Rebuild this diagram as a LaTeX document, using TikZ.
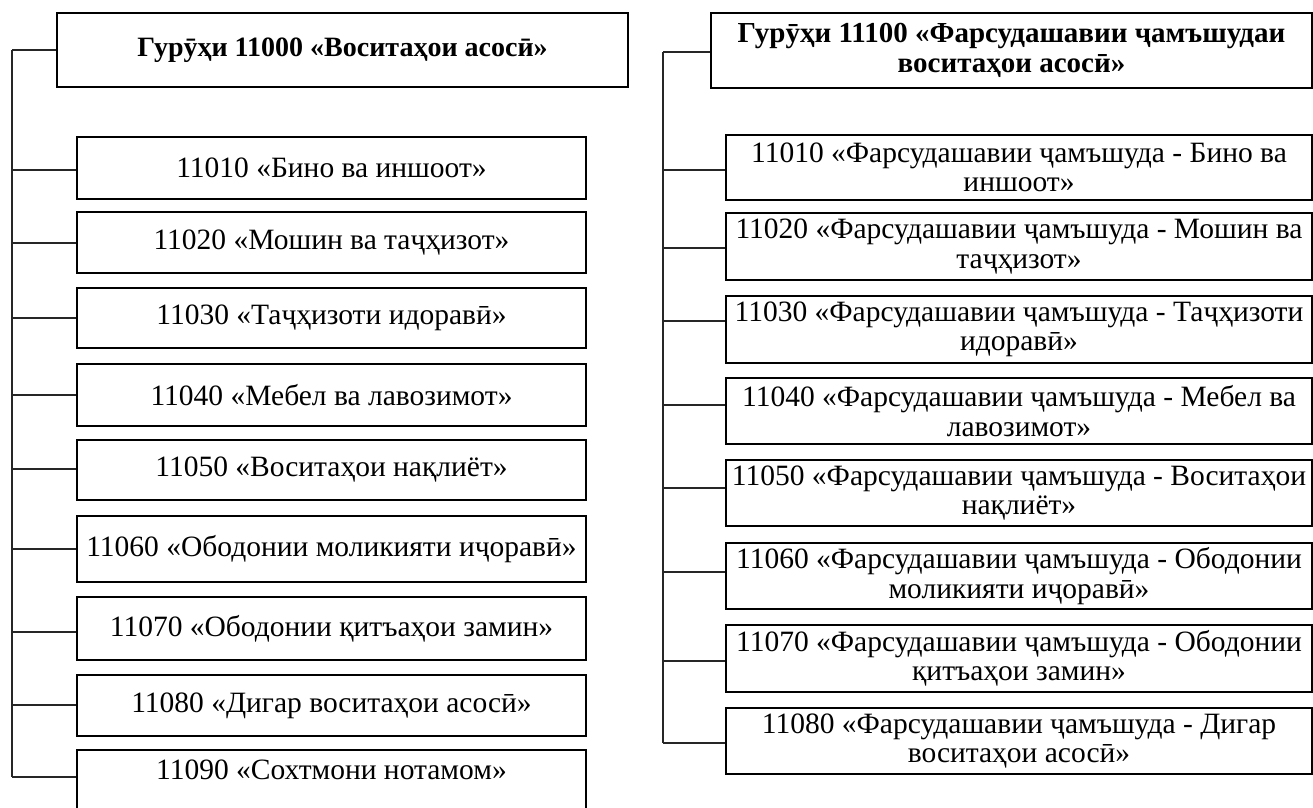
\documentclass[tikz,border=0pt]{standalone}
\usepackage{fontspec}
\setmainfont{Liberation Serif}
\tikzset{
  box/.style={draw=black, line width=2pt, inner sep=0pt, align=center,
    font=\fontsize{29.5}{29.5}\selectfont},
  hbox/.style={box, font=\bfseries\fontsize{29}{30}\selectfont},
  link/.style={draw=black!85, line width=1.2pt},
}
\begin{document}
\begin{tikzpicture}[x=1pt,y=-1pt]
\useasboundingbox (0,0) rectangle (1313,807);
% ---------- left column ----------
\node[hbox, font=\bfseries\fontsize{28}{30}\selectfont, minimum width=571pt, minimum height=74pt] (LH) at (342.5,50) {Гурӯҳи 11000 «Воситаҳои асосӣ»};
\node[box, minimum width=509pt, minimum height=62pt] (L1) at (331.5,168) {11010 «Бино ва иншоот»};
\node[box, minimum width=509pt, minimum height=61pt] (L2) at (331.5,242.5) {11020 «Мошин ва таҷҳизот»};
\node[box, minimum width=509pt, minimum height=60pt] (L3) at (331.5,318) {11030 «Таҷҳизоти идоравӣ»};
\node[box, minimum width=509pt, minimum height=62pt] (L4) at (331.5,395) {11040 «Мебел ва лавозимот»};
\node[box, minimum width=509pt, minimum height=60pt] (L5) at (331.5,470) {11050 «Воситаҳои нақлиёт»};
\node[box, minimum width=509pt, minimum height=66pt] (L6) at (331.5,549) {11060 «Ободонии моликияти иҷоравӣ»};
\node[box, minimum width=509pt, minimum height=63pt] (L7) at (331.5,628.5) {11070 «Ободонии қитъаҳои замин»};
\node[box, minimum width=509pt, minimum height=61pt] (L8) at (331.5,705.5) {11080 «Дигар воситаҳои асосӣ»};
\node[box, minimum width=509pt, minimum height=62pt] (L9) at (331.5,781) {\raisebox{2pt}[0pt][0pt]{11090 «Сохтмони нотамом»}};
\coordinate (LT0) at (12,50);
\coordinate (LT1) at (12,170);
\coordinate (LT2) at (12,243);
\coordinate (LT3) at (12,318);
\coordinate (LT4) at (12,395);
\coordinate (LT5) at (12,469);
\coordinate (LT6) at (12,549);
\coordinate (LT7) at (12,632);
\coordinate (LT8) at (12,705);
\coordinate (LT9) at (12,777);
\draw[link] (LT0) -- (LT9);
\draw[link] (LT0) -- (LT0 -| LH.west);
\foreach \i in {1,...,9} { \draw[link] (LT\i) -- (LT\i -| L\i.west); }
% ---------- right column ----------
\node[hbox, minimum width=601pt, minimum height=75pt] (RH) at (1011.5,50.5) {Гурӯҳи 11100 «Фарсудашавии ҷамъшудаи\\воситаҳои асосӣ»};
\node[box, minimum width=586pt, minimum height=65pt] (R1) at (1019,167.5) {11010 «Фарсудашавии ҷамъшуда - Бино ва\\иншоот»};
\node[box, minimum width=586pt, minimum height=67pt] (R2) at (1019,246.5) {11020 «Фарсудашавии ҷамъшуда - Мошин ва\\таҷҳизот»};
\node[box, minimum width=586pt, minimum height=67pt] (R3) at (1019,329.5) {11030 «Фарсудашавии ҷамъшуда - Таҷҳизоти\\идоравӣ»};
\node[box, minimum width=586pt, minimum height=66pt] (R4) at (1019,411) {11040 «Фарсудашавии ҷамъшуда - Мебел ва\\лавозимот»};
\node[box, minimum width=586pt, minimum height=66pt] (R5) at (1019,493) {11050 «Фарсудашавии ҷамъшуда - Воситаҳои\\нақлиёт»};
\node[box, minimum width=586pt, minimum height=66pt] (R6) at (1019,576) {11060 «Фарсудашавии ҷамъшуда - Ободонии\\моликияти иҷоравӣ»};
\node[box, minimum width=586pt, minimum height=67pt] (R7) at (1019,658.5) {11070 «Фарсудашавии ҷамъшуда - Ободонии\\қитъаҳои замин»};
\node[box, minimum width=586pt, minimum height=66pt] (R8) at (1019,741) {11080 «Фарсудашавии ҷамъшуда - Дигар\\воситаҳои асосӣ»};
\coordinate (RT0) at (663,52);
\coordinate (RT1) at (663,170);
\coordinate (RT2) at (663,248);
\coordinate (RT3) at (663,321);
\coordinate (RT4) at (663,405);
\coordinate (RT5) at (663,488);
\coordinate (RT6) at (663,572);
\coordinate (RT7) at (663,661);
\coordinate (RT8) at (663,743);
\draw[link] (RT0) -- (RT8);
\draw[link] (RT0) -- (RT0 -| RH.west);
\foreach \i in {1,...,8} { \draw[link] (RT\i) -- (RT\i -| R\i.west); }
\end{tikzpicture}
\end{document}
